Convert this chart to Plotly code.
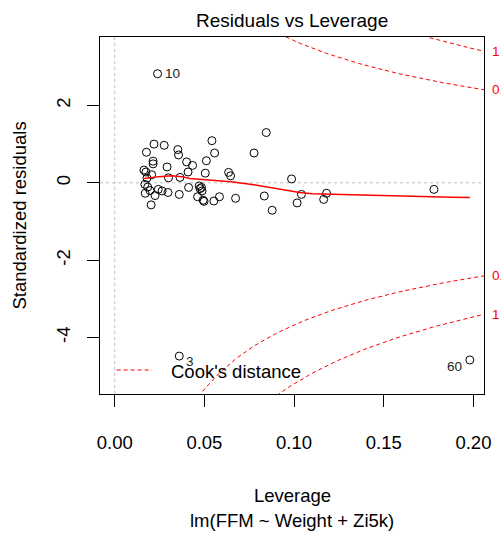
import numpy as np
import plotly.graph_objects as go

# Leverage (hat values) and standardized residuals of lm(FFM ~ Weight + Zi5k)
leverage = [
    0.0239, 0.0360, 0.1980,
    0.0177, 0.0219, 0.0276, 0.0352, 0.0356, 0.0214, 0.0214, 0.0401, 0.0434,
    0.0292, 0.0163, 0.0174, 0.0206, 0.0409, 0.0300, 0.0364, 0.0180, 0.0168,
    0.0184, 0.0197, 0.0170, 0.0243, 0.0264, 0.0297, 0.0225, 0.0203, 0.0360,
    0.0412, 0.0471, 0.0476, 0.0462, 0.0493, 0.0542, 0.0557, 0.0511, 0.0505,
    0.0635, 0.0646, 0.0484, 0.0487, 0.0498, 0.0553, 0.0584, 0.0674, 0.0777,
    0.0845, 0.0834, 0.0878, 0.0986, 0.1041, 0.1017, 0.1181, 0.1165, 0.1780,
]
std_resid = [
    2.82, -4.48, -4.58,
    0.79, 1.00, 0.97, 0.86, 0.72, 0.56, 0.49, 0.54, 0.45,
    0.41, 0.33, 0.28, 0.21, 0.28, 0.13, 0.14, 0.12, -0.04,
    -0.11, -0.20, -0.27, -0.17, -0.21, -0.25, -0.33, -0.57, -0.30,
    -0.12, -0.08, -0.15, -0.36, -0.45, 1.09, 0.77, 0.57, 0.25,
    0.27, 0.18, -0.12, -0.21, -0.48, -0.47, -0.36, -0.40, 0.77,
    1.30, -0.34, -0.71, 0.10, -0.30, -0.52, -0.27, -0.43, -0.17,
]
point_labels = ["10", "3", "60"] + [""] * (len(leverage) - 3)
label_yshift = {"10": 0, "3": -5, "60": -7}

# Smoothed trend of residuals against leverage
smooth_x = [0.0164, 0.0246, 0.0319, 0.0374, 0.0420, 0.0520, 0.0593, 0.0648,
            0.0776, 0.0904, 0.1031, 0.1100, 0.1320, 0.1630, 0.1880, 0.1980]
smooth_y = [0.11, 0.16, 0.18, 0.16, 0.11, 0.07, 0.05, 0.03,
            -0.05, -0.16, -0.25, -0.28, -0.30, -0.33, -0.37, -0.38]

# Cook's distance contour levels and number of model coefficients
cook_levels = [0.5, 1]
n_coef = 3

x_ticks = [0.0, 0.05, 0.10, 0.15, 0.20]
x_tick_text = ["0.00", "0.05", "0.10", "0.15", "0.20"]
y_ticks = [-4, -2, 0, 2]
y_tick_text = ["-4", "-2", "0", "2"]

x_range = [-0.0082, 0.2059]
y_range = [-5.46, 3.77]

FONT = "Liberation Sans, Arial, sans-serif"
RED = "#FF0000"

fig = go.Figure()

# reference lines at zero
fig.add_trace(go.Scatter(x=[0, 0], y=y_range, mode="lines",
                         line=dict(color="#BEBEBE", width=1, dash="dot"),
                         hoverinfo="skip", showlegend=False))
fig.add_trace(go.Scatter(x=x_range, y=[0, 0], mode="lines",
                         line=dict(color="#BEBEBE", width=1, dash="dot"),
                         hoverinfo="skip", showlegend=False))

# observations
fig.add_trace(go.Scatter(x=leverage, y=std_resid, mode="markers",
                         marker=dict(symbol="circle-open", size=8,
                                     color="black", line=dict(width=1)),
                         showlegend=False))

# smoother
fig.add_trace(go.Scatter(x=smooth_x, y=smooth_y, mode="lines",
                         line=dict(color=RED, width=1.5),
                         showlegend=False))

# Cook's distance contours
hh = np.linspace(max(leverage) / 100, x_range[1], 101)
for lvl in cook_levels:
    r = np.sqrt(lvl * n_coef * (1 - hh) / hh)
    for sign in (1, -1):
        fig.add_trace(go.Scatter(x=hh, y=sign * r, mode="lines",
                                 line=dict(color=RED, width=1, dash="4px,3px"),
                                 hoverinfo="skip", showlegend=False))

annotations = []

# identified observations
x_mid = (x_range[0] + x_range[1]) / 2
for xv, yv, lab in zip(leverage, std_resid, point_labels):
    if not lab:
        continue
    right = xv < x_mid
    annotations.append(dict(
        x=xv, y=yv, xref="x", yref="y", text=lab, showarrow=False,
        xanchor="left" if right else "right", yanchor="middle",
        xshift=5 if right else -6, yshift=label_yshift[lab],
        font=dict(family=FONT, size=13.5, color="#222")))

# contour level labels on the right edge
for lvl in cook_levels:
    ry = np.sqrt(lvl * n_coef * (1 - x_range[1]) / x_range[1])
    for sign in (1, -1):
        annotations.append(dict(
            x=1, y=float(sign * ry), xref="paper", yref="y", text=f"{lvl:g}",
            showarrow=False, xanchor="left", yanchor="middle", xshift=6,
            font=dict(family=FONT, size=13.5, color=RED)))

# titles
annotations += [
    dict(x=0.5, y=1, xref="paper", yref="paper", text="Residuals vs Leverage",
         showarrow=False, xanchor="center", yanchor="middle", yshift=16.5,
         font=dict(family=FONT, size=19, color="black")),
    dict(x=0.5, y=0, xref="paper", yref="paper", text="Leverage",
         showarrow=False, xanchor="center", yanchor="middle", yshift=-101,
         font=dict(family=FONT, size=18.5, color="black")),
    dict(x=0.5, y=0, xref="paper", yref="paper", text="lm(FFM ~ Weight + Zi5k)",
         showarrow=False, xanchor="center", yanchor="middle", yshift=-126.5,
         font=dict(family=FONT, size=18.5, color="black")),
    dict(x=0, y=0.5, xref="paper", yref="paper", text="Standardized residuals",
         showarrow=False, xanchor="center", yanchor="middle", xshift=-81,
         textangle=-90, font=dict(family=FONT, size=18.5, color="black")),
    dict(x=(170.7 - 100) / 391, y=(394 - 371) / 357, xref="paper", yref="paper",
         text="Cook's distance", showarrow=False, xanchor="left", yanchor="middle",
         font=dict(family=FONT, size=18.5, color="black")),
]

shapes = [
    # legend key for the contours
    dict(type="line", xref="paper", yref="paper",
         x0=(117 - 100) / 391, x1=(153 - 100) / 391,
         y0=(394 - 370) / 357, y1=(394 - 370) / 357,
         line=dict(color=RED, width=1, dash="4px,3px")),
]

fig.update_layout(
    width=501, height=533,
    margin=dict(l=100, r=10, t=37, b=139, pad=0),
    paper_bgcolor="white", plot_bgcolor="white",
    showlegend=False,
    font=dict(family=FONT, size=18.5, color="black"),
    annotations=annotations,
    shapes=shapes,
    xaxis=dict(range=x_range, tickvals=x_ticks, ticktext=x_tick_text,
               ticks="outside", ticklen=12, tickwidth=1, tickcolor="black",
               showline=True, mirror=True, linecolor="black", linewidth=1,
               showgrid=False, zeroline=False,
               tickfont=dict(family=FONT, size=18.5, color="black"),
               ticklabelstandoff=20),
    yaxis=dict(range=y_range, tickvals=y_ticks, ticktext=y_tick_text,
               ticks="outside", ticklen=12, tickwidth=1, tickcolor="black",
               showline=True, mirror=True, linecolor="black", linewidth=1,
               showgrid=False, zeroline=False, tickangle=-90,
               tickfont=dict(family=FONT, size=18.5, color="black"),
               ticklabelstandoff=10),
)

fig.write_html("out.html")
